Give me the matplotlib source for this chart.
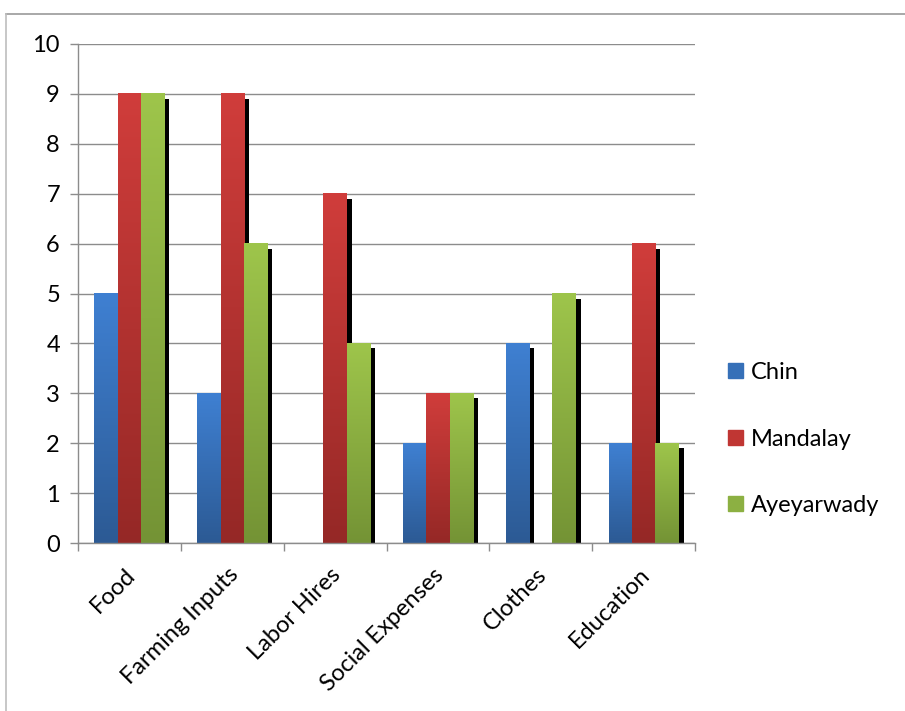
import numpy as np
import matplotlib
matplotlib.use("Agg")
import matplotlib.pyplot as plt
import matplotlib.transforms as mtransforms
from matplotlib.lines import Line2D
from matplotlib.colors import LinearSegmentedColormap

categories = ["Food", "Farming Inputs", "Labor Hires", "Social Expenses", "Clothes", "Education"]
series = ["Chin", "Mandalay", "Ayeyarwady"]
chin = [5, 3, 0, 2, 4, 2]
mandalay = [9, 9, 7, 3, 0, 6]
ayeyarwady = [9, 6, 4, 3, 5, 2]
values = [chin, mandalay, ayeyarwady]

# (top, bottom) colours of the gradient fill
fills = [("#3f80d2", "#2c5a94"), ("#d03d3b", "#952826"), ("#9ec54b", "#749335")]
legend_colors = ["#3670b8", "#c03633", "#8cb042"]

plt.rcParams["font.family"] = ["Lato", "DejaVu Sans"]
FS = 17

fig = plt.figure(figsize=(9.05, 7.11), dpi=100)
W, H = 905, 711
ax = fig.add_axes([78 / W, 1 - 543 / H, (695 - 78) / W, (543 - 44) / H])

x = np.arange(len(categories))
bar_w = 0.227
gradient = np.linspace(1, 0, 256).reshape(-1, 1)

shadow_off = mtransforms.offset_copy(ax.transData, fig=fig, x=5, y=-5, units="dots")

for i, (name, vals) in enumerate(zip(series, values)):
    pos = x + (i - 1) * bar_w
    shadows = ax.bar(pos, vals, bar_w, color="black", zorder=1, linewidth=0)
    for s in shadows:
        s.set_transform(shadow_off)
    bars = ax.bar(pos, vals, bar_w, color=legend_colors[i], zorder=2, linewidth=0)
    cmap = LinearSegmentedColormap.from_list(name, [fills[i][1], fills[i][0]])
    for b in bars:
        h = b.get_height()
        if h <= 0:
            continue
        x0 = b.get_x()
        ax.imshow(gradient, cmap=cmap, aspect="auto", vmin=0, vmax=1,
                  extent=(x0, x0 + b.get_width(), 0, h), zorder=2.5,
                  interpolation="bilinear")

ax.set_xlim(-0.5, len(categories) - 0.5)
ax.set_ylim(0, 10)
ax.set_yticks(range(0, 11))
ax.set_axisbelow(True)
ax.grid(axis="y", color="#8c8c8c", linewidth=1.0)

for side in ("top", "right"):
    ax.spines[side].set_visible(False)
for side in ("left", "bottom"):
    ax.spines[side].set_color("#8c8c8c")
    ax.spines[side].set_linewidth(1.0)

ax.tick_params(axis="y", length=6, width=1.0, color="#8c8c8c", labelsize=FS, pad=7)
ax.set_xticks(x)
ax.set_xticklabels([])
ax.set_xticks(np.arange(-0.5, len(categories)), minor=True)
ax.tick_params(axis="x", which="major", length=0)
ax.tick_params(axis="x", which="minor", length=6, width=1.0, color="#8c8c8c")

label_off = mtransforms.offset_copy(ax.get_xaxis_transform(), fig=fig, x=-5, y=-21, units="dots")
for xi, cat in zip(x, categories):
    ax.text(xi, 0, cat, transform=label_off, rotation=45, rotation_mode="anchor",
            ha="right", va="top", fontsize=FS)

handles = [plt.Rectangle((0, 0), 1, 1, color=c) for c in legend_colors]
fig.legend(handles, series, loc="center left", bbox_to_anchor=(719 / W, 1 - 439 / H),
           frameon=False, fontsize=FS, handlelength=0.6, handleheight=0.6,
           handletextpad=0.35, labelspacing=1.92, borderaxespad=0)

# outer chart-area border (cut by the image edges)
fig.add_artist(Line2D([6 / W, 1.01], [1 - 14 / H, 1 - 14 / H], color="#9a9a9a", linewidth=1.2))
fig.add_artist(Line2D([6 / W, 6 / W], [-0.01, 1 - 14 / H], color="#bdbdbd", linewidth=1.2))

fig.savefig("out.png", dpi=100)
